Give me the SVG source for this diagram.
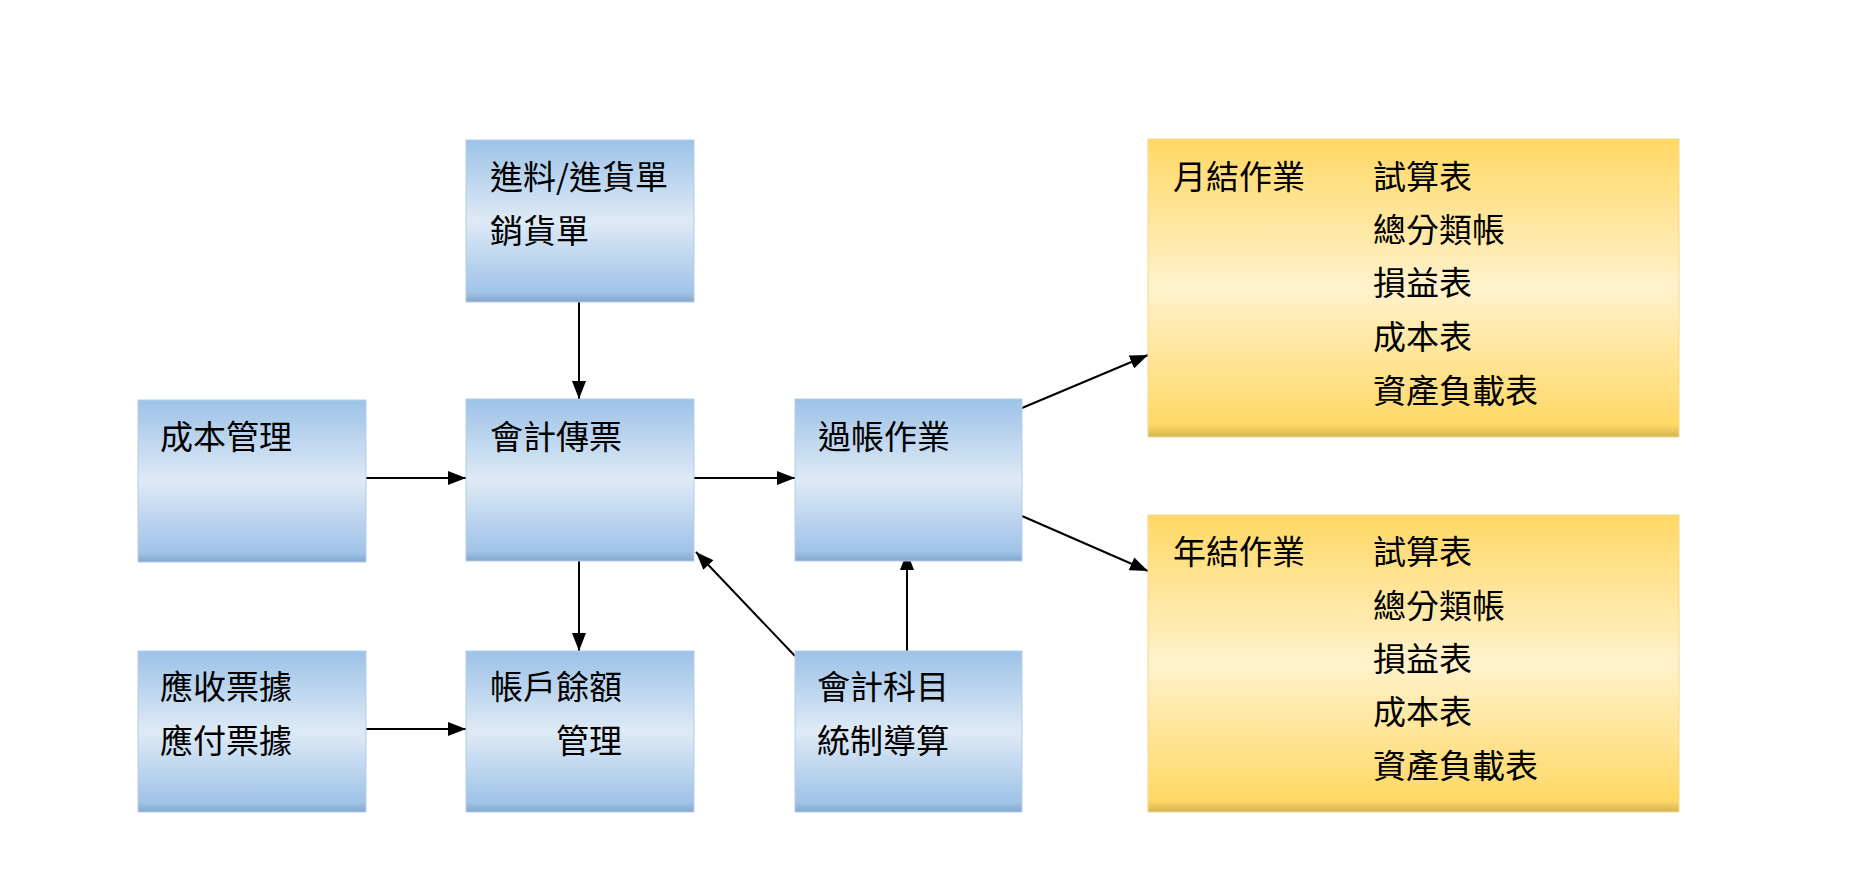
<svg xmlns="http://www.w3.org/2000/svg" width="1850" height="881" viewBox="0 0 1850 881">
<defs>
<linearGradient id="gb" x1="0" y1="0" x2="0" y2="1">
<stop offset="0" stop-color="#9dc2e7"/>
<stop offset="0.5" stop-color="#deeaf6"/>
<stop offset="0.94" stop-color="#a0c3e8"/>
<stop offset="1" stop-color="#86a6cc"/>
</linearGradient>
<linearGradient id="gy" x1="0" y1="0" x2="0" y2="1">
<stop offset="0" stop-color="#ffd865"/>
<stop offset="0.5" stop-color="#fff2cc"/>
<stop offset="0.96" stop-color="#ffd865"/>
<stop offset="1" stop-color="#d6b352"/>
</linearGradient>
<marker id="ah" markerUnits="userSpaceOnUse" markerWidth="18" markerHeight="14" refX="18" refY="7" orient="auto">
<path d="M0,0 L18,7 L0,14 z" fill="#000"/>
</marker>
<style>
.b{fill:url(#gb);stroke:#b4cde8;stroke-width:1}
.y{fill:url(#gy);stroke:#f3d98a;stroke-width:1}
.t{font-family:"Noto Sans CJK TC","Noto Sans CJK SC",sans-serif;font-size:33px;fill:#000}
.c{stroke:#000;stroke-width:2;fill:none;marker-end:url(#ah)}
</style>
</defs>
<rect width="1850" height="881" fill="#fff"/>
<g id="connectors">
<line class="c" x1="579" y1="302" x2="579" y2="399"/>
<line class="c" x1="366" y1="478" x2="466" y2="478"/>
<line class="c" x1="694" y1="478" x2="795" y2="478"/>
<line class="c" x1="579" y1="561" x2="579" y2="651"/>
<line class="c" x1="366" y1="729" x2="466" y2="729"/>
<line class="c" x1="795" y1="656" x2="696" y2="552"/>
<line class="c" x1="907" y1="651" x2="907" y2="552"/>
<line class="c" x1="1022" y1="408" x2="1148" y2="355"/>
<line class="c" x1="1022" y1="516" x2="1148" y2="571"/>
</g>
<g id="n-jinliao">
<rect class="b" x="466" y="140" width="228" height="162"/>
<text class="t" x="490" y="189">進料/進貨單</text>
<text class="t" x="490" y="243">銷貨單</text>
</g>
<g id="n-chengben">
<rect class="b" x="138" y="400" width="228" height="162"/>
<text class="t" x="160" y="449">成本管理</text>
</g>
<g id="n-chuanpiao">
<rect class="b" x="466" y="399" width="228" height="162"/>
<text class="t" x="490" y="449">會計傳票</text>
</g>
<g id="n-guozhang">
<rect class="b" x="795" y="399" width="227" height="162"/>
<text class="t" x="818" y="449">過帳作業</text>
</g>
<g id="n-piaoju">
<rect class="b" x="138" y="651" width="228" height="161"/>
<text class="t" x="160" y="699">應收票據</text>
<text class="t" x="160" y="753">應付票據</text>
</g>
<g id="n-yue">
<rect class="b" x="466" y="651" width="228" height="161"/>
<text class="t" x="490" y="699">帳戶餘額</text>
<text class="t" x="556" y="753">管理</text>
</g>
<g id="n-kemu">
<rect class="b" x="795" y="651" width="227" height="161"/>
<text class="t" x="817" y="699">會計科目</text>
<text class="t" x="817" y="753">統制導算</text>
</g>
<g id="n-yuejie">
<rect class="y" x="1148" y="139" width="531" height="298"/>
<text class="t" x="1173" y="189">月結作業</text>
<text class="t" x="1373" y="189">試算表</text>
<text class="t" x="1373" y="242">總分類帳</text>
<text class="t" x="1373" y="295">損益表</text>
<text class="t" x="1373" y="349">成本表</text>
<text class="t" x="1373" y="403">資產負載表</text>
</g>
<g id="n-nianjie">
<rect class="y" x="1148" y="515" width="531" height="297"/>
<text class="t" x="1173" y="564">年結作業</text>
<text class="t" x="1373" y="564">試算表</text>
<text class="t" x="1373" y="618">總分類帳</text>
<text class="t" x="1373" y="671">損益表</text>
<text class="t" x="1373" y="724">成本表</text>
<text class="t" x="1373" y="778">資產負載表</text>
</g>
</svg>
